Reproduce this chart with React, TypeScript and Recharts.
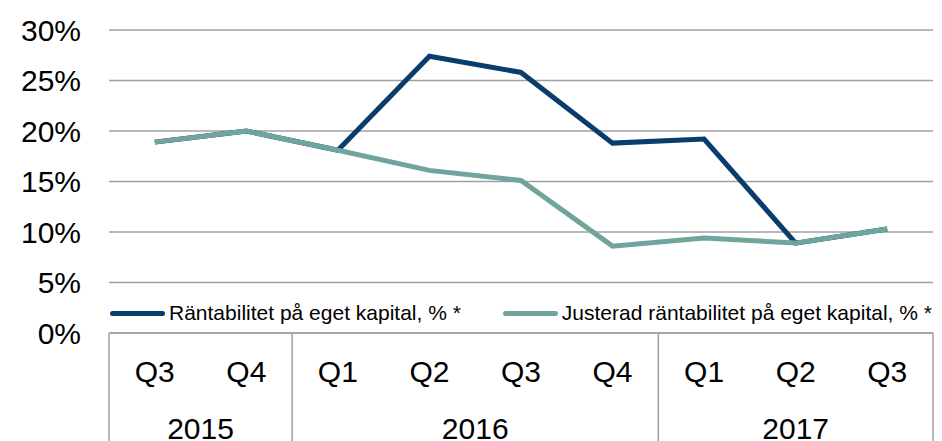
import { LineChart, Line, XAxis, YAxis, CartesianGrid } from 'recharts';

const quarters = ['Q3', 'Q4', 'Q1', 'Q2', 'Q3', 'Q4', 'Q1', 'Q2', 'Q3'];
const years = ['2015', '2015', '2016', '2016', '2016', '2016', '2017', '2017', '2017'];
const roe = [18.9, 20.0, 18.1, 27.4, 25.8, 18.8, 19.2, 8.9, 10.3];
const adjustedRoe = [18.9, 20.0, 18.1, 16.1, 15.1, 8.6, 9.4, 8.9, 10.3];
const yTicks = [0, 5, 10, 15, 20, 25, 30];

const SERIES = [
  { key: 'roe', name: 'Räntabilitet på eget kapital, % *', color: '#0a3d6e' },
  { key: 'adj', name: 'Justerad räntabilitet på eget kapital, % *', color: '#6fa59c' },
];

const W = 942;
const H = 441;
const MARGIN = { top: 30, right: 9, bottom: 0, left: 0 };
const Y_W = 109;
const PLOT_W = W - MARGIN.left - MARGIN.right - Y_W;
const BAND = PLOT_W / quarters.length;
const GRAY = '#a0a0a0';
const FONT = 'Liberation Sans, Arial, sans-serif';
const BIG = 30;

const data = quarters.map((q, i) => ({
  q: `${q}-${i}`,
  label: q,
  year: years[i],
  roe: roe[i],
  adj: adjustedRoe[i],
}));

function QuarterTick(props: any) {
  const { x, y, index } = props;
  const first = index === 0 || years[index] !== years[index - 1];
  let groupSize = 0;
  if (first) {
    while (index + groupSize < years.length && years[index + groupSize] === years[index]) groupSize++;
  }
  const last = index === years.length - 1;
  return (
    <g>
      <text x={x} y={y + 38} dy="0.35em" textAnchor="middle" fontSize={BIG} fill="#000" fontFamily={FONT}>
        {quarters[index]}
      </text>
      {first && (
        <>
          <line x1={x - BAND / 2} x2={x - BAND / 2} y1={y} y2={H} stroke={GRAY} strokeWidth={1.5} />
          <text
            x={x + ((groupSize - 1) * BAND) / 2}
            y={y + 95}
            dy="0.35em"
            textAnchor="middle"
            fontSize={BIG}
            fill="#000"
            fontFamily={FONT}
          >
            {years[index]}
          </text>
        </>
      )}
      {last && <line x1={x + BAND / 2} x2={x + BAND / 2} y1={y} y2={H} stroke={GRAY} strokeWidth={1.5} />}
    </g>
  );
}

function LegendBox() {
  return (
    <div
      style={{
        position: 'absolute',
        left: 110,
        top: 300,
        display: 'flex',
        alignItems: 'center',
        fontFamily: FONT,
        fontSize: 21,
        color: '#000',
        whiteSpace: 'nowrap',
        lineHeight: '26px',
      }}
    >
      {SERIES.map((s, i) => (
        <div key={s.key} style={{ display: 'flex', alignItems: 'center', marginRight: i === 0 ? 42 : 0 }}>
          <div style={{ width: 55, height: 5, borderRadius: 3, background: s.color, marginRight: 4 }} />
          <span>{s.name}</span>
        </div>
      ))}
    </div>
  );
}

export default function App() {
  return (
    <div style={{ position: 'absolute', left: 0, top: 0, width: W, height: H, background: '#fff' }}>
      <LineChart width={W} height={H} data={data} margin={MARGIN}>
        <CartesianGrid vertical={false} stroke={GRAY} strokeWidth={1.5} />
        <XAxis
          dataKey="q"
          height={108}
          padding={{ left: BAND / 2, right: BAND / 2 }}
          tickLine={false}
          tickSize={0}
          tickMargin={0}
          axisLine={{ stroke: GRAY, strokeWidth: 1.5 }}
          interval={0}
          tick={<QuarterTick />}
        />
        <YAxis
          width={Y_W}
          domain={[0, 30]}
          ticks={yTicks}
          tickFormatter={(v: number) => `${v}%`}
          axisLine={false}
          tickLine={false}
          tickMargin={22}
          tick={{ fontSize: BIG, fill: '#000', fontFamily: FONT }}
        />
        {SERIES.map(s => (
          <Line
            key={s.key}
            type="linear"
            dataKey={s.key}
            name={s.name}
            stroke={s.color}
            strokeWidth={5}
            dot={false}
            activeDot={false}
            isAnimationActive={false}
          />
        ))}
      </LineChart>
      <LegendBox />
    </div>
  );
}
